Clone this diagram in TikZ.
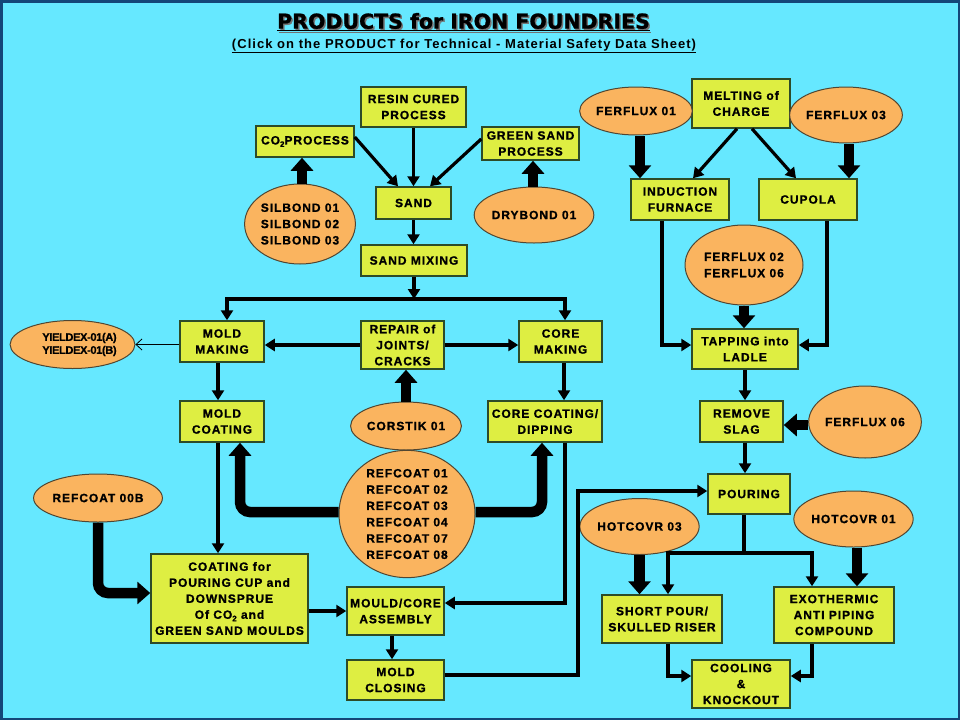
\documentclass[tikz,border=0pt]{standalone}
\usepackage{fontspec}
\usetikzlibrary{arrows.meta,shapes.geometric}
\setmainfont{Liberation Sans}
\newfontfamily\bxfont[LetterSpace=8, BoldFeatures={FakeBold=1}]{Liberation Sans}
\newfontfamily\ylfont[LetterSpace=-3, BoldFeatures={FakeBold=1}]{Liberation Sans}
\newfontfamily\sbfont[LetterSpace=8]{Liberation Sans}
\newfontfamily\ttlfont[BoldFeatures={FakeBold=1}]{DejaVu Sans}
\definecolor{bg}{RGB}{102,232,255}
\definecolor{framec}{RGB}{20,70,120}
\definecolor{boxfill}{RGB}{222,238,66}
\definecolor{boxline}{RGB}{45,75,40}
\definecolor{ellfill}{RGB}{250,180,95}
\definecolor{ellline}{RGB}{80,70,50}
\newcommand{\subtwo}{\raisebox{-2.5pt}{\fontsize{8}{8}\selectfont 2}}
\tikzset{
 pbox/.style={draw=boxline, fill=boxfill, line width=1.5pt, inner sep=0pt, align=center,
   font=\bxfont\bfseries\fontsize{12}{16}\selectfont},
 pell/.style={ellipse, draw=ellline, fill=ellfill, line width=1pt, inner sep=0pt, align=center,
   font=\bxfont\bfseries\fontsize{12}{16.3}\selectfont},
 arr/.style={line width=3.2pt, -{Triangle[length=10pt,width=12pt]}},
 thk/.style={line width=10.5pt, -{Triangle[length=13pt,width=22pt]}, rounded corners=10pt},
 ln/.style={line width=3.2pt},
 thin/.style={line width=0.8pt, -{Straight Barb[length=6pt,width=11pt]}}
}
\begin{document}
\begin{tikzpicture}[x=1pt,y=-1pt]
\fill[bg] (0,0) rectangle (960,720);
\useasboundingbox (0,0) rectangle (960,720);
\draw[framec, line width=2.5pt] (1.25,1.25) rectangle (958.75,718.75);

% title
\node[text=black!55, font=\ttlfont\bfseries\fontsize{20.5}{24}\selectfont] at (465,23.5) {\underline{PRODUCTS for IRON FOUNDRIES}};
\node[font=\ttlfont\bfseries\fontsize{20.5}{24}\selectfont] (title) at (463.5,22) {\underline{PRODUCTS for IRON FOUNDRIES}};
\node[font=\sbfont\bfseries\fontsize{13}{14}\selectfont] (subtitle) at (464,46) {\underline{(Click on the PRODUCT for Technical - Material Safety Data Sheet)}};

% sand branch
\node[pbox, minimum width=105pt, minimum height=40pt] (resin) at (413.5,107) {RESIN CURED\\PROCESS};
\node[pbox, minimum width=98pt, minimum height=31pt] (co2) at (305,141.5) {CO\subtwo PROCESS};
\node[pbox, minimum width=97pt, minimum height=33pt] (green) at (530.5,143.5) {GREEN SAND\\PROCESS};
\node[pbox, minimum width=75pt, minimum height=32pt] (sand) at (413.5,203) {SAND};
\node[pbox, minimum width=106pt, minimum height=31pt] (sandmix) at (414,260.5) {SAND MIXING};
\node[pell, minimum width=104pt, minimum height=80pt] (silbond) at (300,224) {SILBOND 01\\SILBOND 02\\SILBOND 03};
\node[pell, minimum width=106pt, minimum height=56pt] (drybond) at (534,215) {DRYBOND 01};

% melting branch
\node[pbox, minimum width=98pt, minimum height=49pt] (melting) at (741,103.5) {MELTING of\\CHARGE};
\node[pell, minimum width=100pt, minimum height=48pt] (ff01) at (636,111) {FERFLUX 01};
\node[pell, minimum width=98pt, minimum height=56pt] (ff03) at (846,115) {FERFLUX 03};
\node[pbox, minimum width=98pt, minimum height=41pt] (induction) at (680,199.5) {INDUCTION\\FURNACE};
\node[pbox, minimum width=98pt, minimum height=41pt] (cupola) at (808,199.5) {CUPOLA};
\node[pell, minimum width=118pt, minimum height=80pt] (ff0206) at (744,265) {FERFLUX 02\\FERFLUX 06};
\node[pbox, minimum width=106pt, minimum height=40pt] (tapping) at (745,349) {TAPPING into\\LADLE};
\node[pbox, minimum width=83pt, minimum height=41pt] (remove) at (741.5,421.5) {REMOVE\\SLAG};
\node[pell, minimum width=106pt, minimum height=72pt] (ff06) at (865,422) {FERFLUX 06};
\node[pbox, minimum width=82pt, minimum height=40pt] (pouring) at (749,494) {POURING};
\node[pell, minimum width=106pt, minimum height=56pt] (hot03) at (639.5,526.5) {HOTCOVR 03};
\node[pell, minimum width=98pt, minimum height=56pt] (hot01) at (853.5,519) {HOTCOVR 01};
\node[pbox, minimum width=120pt, minimum height=48pt] (short) at (662,619) {SHORT POUR/\\SKULLED RISER};
\node[pbox, minimum width=120pt, minimum height=56pt] (exo) at (834,615) {EXOTHERMIC\\ANTI PIPING\\COMPOUND};
\node[pbox, minimum width=98pt, minimum height=48pt] (cooling) at (741,684) {COOLING\\\&\\KNOCKOUT};

% moulding branch
\node[pbox, minimum width=84pt, minimum height=41pt] (mmaking) at (222,341.5) {MOLD\\MAKING};
\node[pbox, minimum width=84pt, minimum height=41pt] (mcoating) at (222,421.5) {MOLD\\COATING};
\node[pbox, minimum width=83pt, minimum height=48pt] (repair) at (402.5,345) {REPAIR of\\JOINTS/\\CRACKS};
\node[pbox, minimum width=83pt, minimum height=41pt] (cmaking) at (560.5,341.5) {CORE\\MAKING};
\node[pbox, minimum width=114pt, minimum height=41pt] (ccoating) at (545,421.5) {CORE COATING/\\DIPPING};
\node[pell, minimum width=106pt, minimum height=48pt] (corstik) at (406,426) {CORSTIK 01};
\node[pell, minimum width=136pt, minimum height=112pt] (refcoat) at (407,514) {REFCOAT 01\\REFCOAT 02\\REFCOAT 03\\REFCOAT 04\\REFCOAT 07\\REFCOAT 08};
\node[pell, minimum width=106pt, minimum height=48pt] (rc00b) at (98,498) {REFCOAT 00B};
\node[pbox, minimum width=157pt, minimum height=89pt] (cup) at (229.5,598.5) {COATING for\\POURING CUP and\\DOWNSPRUE\\Of CO\subtwo{} and\\GREEN SAND MOULDS};
\node[pbox, minimum width=97pt, minimum height=48pt] (assembly) at (395.5,611) {MOULD/CORE\\ASSEMBLY};
\node[pbox, minimum width=97pt, minimum height=40pt] (closing) at (395.5,680) {MOLD\\CLOSING};
\node[pell, minimum width=112pt, minimum height=48pt, font=\ylfont\bfseries\fontsize{11}{13}\selectfont] (yieldex) at (72.5,344.5) {\hspace*{14pt}YIELDEX-01(A)\\\hspace*{14pt}YIELDEX-01(B)};

% coordinates
\coordinate (split) at (414,299);
\coordinate (sp2) at (744,553);
\coordinate (cp) at (578,491);

% connectors: sand
\draw[arr] ([yshift=4.5pt]co2.east) -- ([xshift=-15.5pt]sand.north);
\draw[arr] (resin.south) -- (sand.north);
\draw[arr] ([yshift=4.5pt]green.west) -- ([xshift=16.5pt]sand.north);
\draw[thk] ([xshift=2pt]silbond.north) -- ([xshift=2pt]silbond.north |- co2.south);
\draw[thk] ([xshift=-1pt]drybond.north) -- ([xshift=-1pt]drybond.north |- green.south);
\draw[arr] (sand.south) -- (sand.south |- sandmix.north);
\draw[arr] (sandmix.south) -- (split);
\draw[arr] (split) -| ([xshift=5pt]mmaking.north);
\draw[arr] (split) -| ([xshift=4.5pt]cmaking.north);
\draw[arr] (repair.west) -- (repair.west -| mmaking.east);
\draw[arr] (repair.east) -- (repair.east -| cmaking.west);
\draw[thk] (corstik.north) -- (corstik.north |- repair.south);
\draw[thin] (mmaking.west |- yieldex.east) -- (yieldex.east);
\draw[arr] ([xshift=-4pt]mmaking.south) -- ([xshift=-4pt]mcoating.north);
\draw[arr] ([xshift=3.5pt]cmaking.south) -- ([xshift=3.5pt]cmaking.south |- ccoating.north);
\draw[arr] ([xshift=-4pt]mcoating.south) -- ([xshift=-4pt]mcoating.south |- cup.north);
\draw[thk] ([yshift=2pt]refcoat.west) -| ([xshift=18pt]mcoating.south);
\draw[thk] ([yshift=2pt]refcoat.east) -| ([xshift=-3pt]ccoating.south);
\draw[arr] ([xshift=20pt]ccoating.south) |- ([yshift=8pt]assembly.east);
\draw[arr] (assembly.west -| cup.east) -- (assembly.west);
\draw[thk] (rc00b.south) |- ([yshift=5.5pt]cup.west);
\draw[arr] ([xshift=-3.5pt]assembly.south) -- ([xshift=-3.5pt]closing.north);
\draw[arr] ([yshift=5pt]closing.east) -| (cp) -- (cp -| pouring.west);

% connectors: melting
\draw[thk] ([xshift=4pt]ff01.south) -- ([xshift=4pt]ff01.south |- induction.north);
\draw[thk] ([xshift=3pt]ff03.south) -- ([xshift=3pt]ff03.south |- cupola.north);
\draw[arr] ([xshift=-4pt]melting.south) -- ([xshift=13pt]induction.north);
\draw[arr] ([xshift=11pt]melting.south) -- ([xshift=-12pt]cupola.north);
\draw[arr] ([xshift=-18pt]induction.south) |- ([yshift=4pt]tapping.west);
\draw[arr] ([xshift=19pt]cupola.south) |- ([yshift=4pt]tapping.east);
\draw[thk] (ff0206.south) -- (ff0206.south |- tapping.north);
\draw[arr] (tapping.south) -- (tapping.south |- remove.north);
\draw[thk] ([yshift=-3pt]ff06.west) -- ([yshift=-3pt]ff06.west -| remove.east);
\draw[arr] ([xshift=3.5pt]remove.south) -- ([xshift=3.5pt]remove.south |- pouring.north);
\draw[ln] ([xshift=-5pt]pouring.south) -- (sp2);
\draw[arr] (sp2) -| ([xshift=6pt]short.north);
\draw[arr] (sp2) -| ([xshift=-22pt]exo.north);
\draw[thk] (hot03.south) -- (hot03.south |- short.north);
\draw[thk] ([xshift=3.5pt]hot01.south) -- ([xshift=3.5pt]hot01.south |- exo.north);
\draw[arr] ([xshift=6pt]short.south) |- ([yshift=8pt]cooling.west);
\draw[arr] ([xshift=-22pt]exo.south) |- ([yshift=8pt]cooling.east);
\end{tikzpicture}
\end{document}
